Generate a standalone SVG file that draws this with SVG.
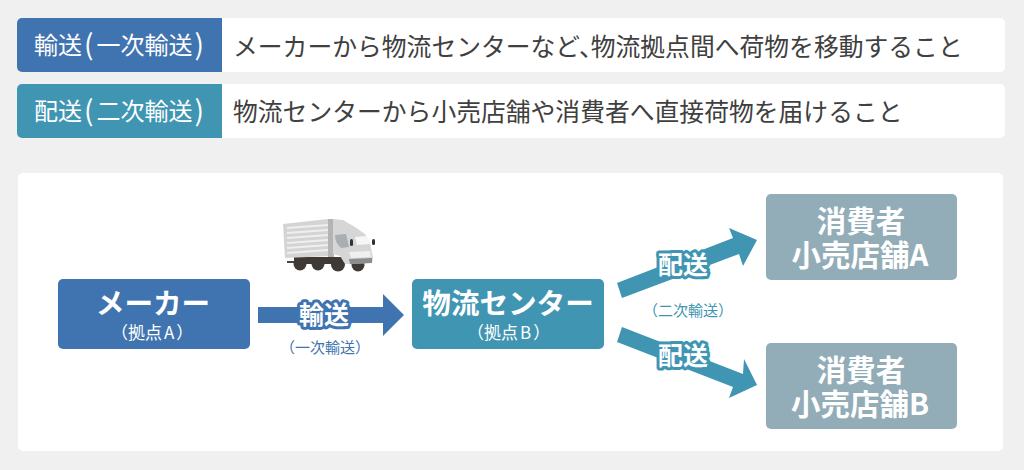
<svg xmlns="http://www.w3.org/2000/svg" width="1024" height="470" viewBox="0 0 1024 470">
<style>
text{font-family:"Noto Sans CJK JP","Noto Sans",sans-serif;text-anchor:middle}
.hd{font-size:24px;fill:#fff;text-anchor:start}
.pa{font-size:28px}
.desc{font-size:24.8px;fill:#404040;text-anchor:start}
.t{font-size:28.6px;fill:#fff;font-weight:700}
.t2{font-size:29.5px;fill:#fff;font-weight:700}
.s{font-size:17px;fill:#fff;text-anchor:start}
.b{fill:#fff;font-size:25px;font-weight:700}
.o{font-size:25px;font-weight:700;stroke-width:6px;stroke-linejoin:round}
.c{font-size:15px;text-anchor:start}
.blue{fill:#4074b0}.teal{fill:#4095b3}.gray{fill:#92adb8}
</style>
<rect width="1024" height="470" fill="#f0f0f0"/>
<g id="row1">
<rect x="17" y="18" width="988" height="54" rx="5" fill="#fff"/>
<path d="M222 18H22a5 5 0 0 0-5 5V67a5 5 0 0 0 5 5H222Z" class="blue"/>
<text class="hd" x="34" y="53.500">輸送<tspan class="pa" dx="2" dy="1">(</tspan><tspan dx="3" dy="-1">一次輸送</tspan><tspan class="pa" dx="2" dy="1">)</tspan></text>
<text class="desc" x="233" y="55.500">メーカーから物流センターなど、<tspan dx="-13">物流拠点間へ荷物を移動すること</tspan></text>
</g>
<g id="row2">
<rect x="17" y="84" width="988" height="54" rx="5" fill="#fff"/>
<path d="M222 84H22a5 5 0 0 0-5 5V133a5 5 0 0 0 5 5H222Z" class="teal"/>
<text class="hd" x="34" y="119.500">配送<tspan class="pa" dx="2" dy="1">(</tspan><tspan dx="3" dy="-1">二次輸送</tspan><tspan class="pa" dx="2" dy="1">)</tspan></text>
<text class="desc" x="233" y="120.500">物流センターから小売店舗や消費者へ直接荷物を届けること</text>
</g>
<rect id="panel" x="18" y="173" width="985" height="278" rx="5" fill="#fff"/>
<g id="truck">
<path d="M287 261H300V263H287Z" fill="#4a4542"/>
<circle cx="300" cy="264" r="6.500" fill="#3f3a36"/><circle cx="318" cy="264" r="6.500" fill="#3f3a36"/><circle cx="338" cy="264.500" r="7" fill="#3f3a36"/><circle cx="358" cy="265" r="6.500" fill="#3f3a36"/>
<path d="M294 257H345V264H294Z" fill="#3f3a36"/>
<path d="M283 224L328 219L331 219L331 256L285 258Z" fill="#d4d4d4"/>
<path d="M287 228L328 225M287 233L328 230M287 238L328 235M287 243L328 240M287 248L328 245M287 253L328 250" stroke="#efefef" stroke-width="2" fill="none"/>
<path d="M328 219H334V257H328Z" fill="#b4b4b4"/>
<path d="M333 219L343 220L355 227L365 234L370 243L373 258L372 263L345 264L340 256L333 254Z" fill="#d6d6d6"/>
<path d="M335 235L346 234L349 247L341 248Q335 243 335 235Z" fill="#a8aeb2"/>
<path d="M355 237L367 236L370 244L357 245Z" fill="#f6f6f6"/>
<path d="M349 252L370 251L371 257L351 258Z" fill="#efefef"/>
<path d="M349 259L372 258L372 263L350 264Z" fill="#8d8d8d"/>
<rect x="350" y="239" width="3" height="7" rx="1.500" fill="#333"/>
<rect x="372" y="239" width="3" height="6" rx="1.500" fill="#333"/>
</g>
<g id="connectors">
<path class="blue" d="M258 307H383V294L404 315L383 336V323H258Z"/>
<path class="teal" d="M617 283L733 238L729 228L757 240L743 266L739 254L622 298Z"/>
<path class="teal" d="M622 327L743 374L744 359L757 385L729 398L733 387L617 342Z"/>
</g>
<g id="node-maker">
<rect x="58" y="279" width="192" height="70" rx="5" class="blue"/>
<text class="t" x="153" y="314">メーカー</text>
<text class="s" x="111" y="339">（拠点<tspan dx="2">A</tspan><tspan dx="2">）</tspan></text>
</g>
<g id="node-center">
<rect x="412" y="279" width="192" height="70" rx="5" class="teal"/>
<text class="t" x="508" y="314">物流センター</text>
<text class="s" x="467" y="339">（拠点<tspan dx="2">B</tspan><tspan dx="2">）</tspan></text>
</g>
<g id="node-a">
<rect x="766" y="194" width="191" height="86" rx="5" class="gray"/>
<text class="t2" x="861" y="231.500">消費者<tspan x="860" y="266">小売店舗A</tspan></text>
</g>
<g id="node-b">
<rect x="766" y="343" width="191" height="86" rx="5" class="gray"/>
<text class="t2" x="861" y="380.500">消費者<tspan x="860" y="415">小売店舗B</tspan></text>
</g>
<g id="labels">
<text class="o" x="324" y="324" fill="#4074b0" stroke="#4074b0">輸送</text>
<text class="b" x="324" y="324">輸送</text>
<text class="c" x="280" y="353" fill="#4074b0">（一次輸送）</text>
<text class="o" x="683" y="274" fill="#4095b3" stroke="#4095b3">配送</text>
<text class="b" x="683" y="274">配送</text>
<text class="c" x="643" y="316" fill="#4095b3">（二次輸送）</text>
<text class="o" x="683" y="365" fill="#4095b3" stroke="#4095b3">配送</text>
<text class="b" x="683" y="365">配送</text>
</g>
</svg>
